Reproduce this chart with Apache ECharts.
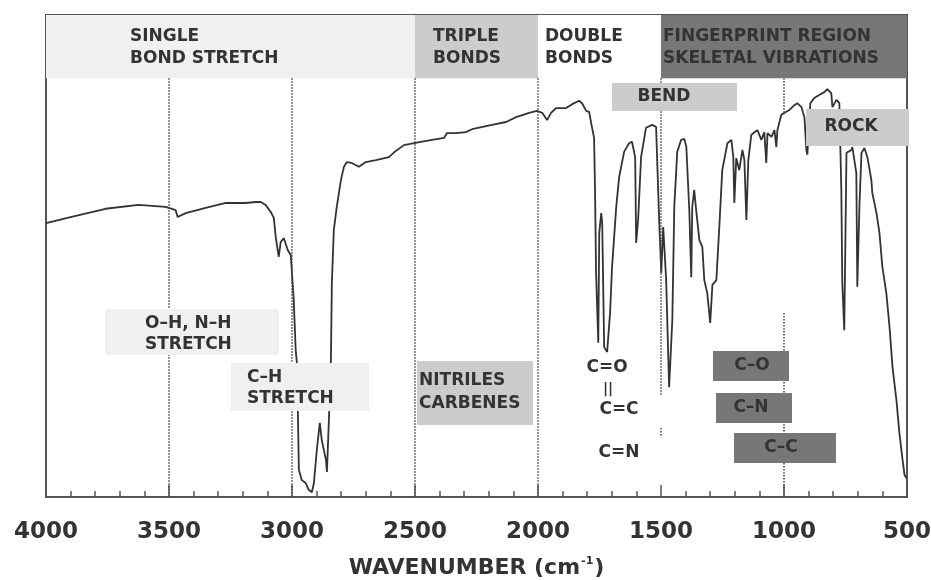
<!DOCTYPE html>
<html>
<head>
<meta charset="utf-8">
<script src="https://cdn.jsdelivr.net/npm/echarts@6/dist/echarts.min.js"></script>
<style>
html,body{margin:0;padding:0;background:#fff;}
#chart{width:931px;height:580px;}
</style>
</head>
<body>
<div id="chart"></div>
<script>
// ---- data ----
const wavenumber = [4000,3896,3758,3624,3514,3473,3465,3432,3351,3269,3188,3147,3127,3107,3086,3074,3066,3054,3046,3033,3025,3017,3005,3001,2993,2985,2980,2976,2972,2960,2944,2932,2919,2911,2899,2887,2879,2862,2858,2850,2842,2838,2830,2818,2801,2789,2777,2757,2728,
2700,2659,2606,2578,2545,2504,2431,2382,2370,2362,2350,2333,2293,2268,2187,2130,2089,2036,2004,1983,1963,1947,1926,1886,1861,1833,1821,1804,1792,1784,1772,
1768,1764,1755,1751,1743,1739,1731,1719,1707,1699,1682,1670,1650,1630,1618,1605,1601,1593,1581,1561,1536,1520,1507,1499,1491,1479,1467,1454,1446,1434,1418,1405,1397,1385,1377,1373,1365,1357,1344,1332,1324,1312,1300,1291,1275,1263,1251,1230,1214,1206,1202,1194,1182,1169,1161,1153,1145,1133,1120,1108,1092,1080,1072,1067,1051,1039,1031,1027,1011,998,978,958,946,929,917,909,905,893,877,857,836,824,808,803,787,775,767,763,755,746,726,722,706,702,693,685,673,661,645,641,624,612,600,584,571,559,543,531,518,510,502];
const transmittance = [56.8,58.1,59.8,60.6,60.2,59.5,58.1,58.9,60.0,61.0,61.0,61.2,61.2,60.6,59.1,57.9,53.9,49.8,52.9,53.7,53.3,51.2,50.2,47.1,40.9,30.5,27.8,17.4,5.6,3.5,2.9,1.5,1.0,2.9,9.8,15.4,11.8,7.7,5.2,16.0,27.8,44.4,55.4,60.2,65.8,68.5,69.5,69.3,68.5,
69.5,69.9,70.5,71.8,73.0,73.4,74.1,74.5,75.5,75.7,75.5,75.5,75.7,76.3,77.2,77.8,78.8,79.7,80.1,79.7,78.2,79.7,80.7,80.7,81.5,82.2,81.7,80.1,79.9,77.6,74.5,
63.1,46.7,32.0,54.8,58.9,56.8,31.1,30.1,38.2,47.7,60.2,66.4,71.6,73.4,73.7,70.5,52.7,57.5,70.5,76.6,77.2,76.8,56.8,46.5,56.0,45.0,22.8,36.7,60.2,71.6,74.1,74.3,72.6,59.5,45.6,60.2,63.7,59.5,53.3,51.9,45.0,42.3,36.1,44.0,45.0,56.0,67.8,73.4,74.1,70.5,61.0,70.3,67.8,72.0,69.9,57.5,69.9,75.1,75.7,76.1,74.1,75.7,69.3,75.5,74.7,76.1,72.6,76.1,79.3,79.7,80.3,81.3,81.7,80.9,78.8,72.0,71.0,81.7,82.8,83.4,84.0,84.6,83.8,80.9,82.4,81.7,63.7,44.4,34.6,71.4,72.0,72.6,67.2,43.6,61.0,71.4,72.4,70.5,65.8,63.1,58.9,54.8,47.7,42.3,35.3,27.0,20.1,13.3,7.7,4.6,3.9];

// header bands
const bandFrom   = [4000, 2500, 2000, 1500];
const bandTo     = [2500, 2000, 1500, 500];
const bandLabels = ['SINGLE\nBOND STRETCH', 'TRIPLE\nBONDS', 'DOUBLE\nBONDS', 'FINGERPRINT REGION\nSKELETAL VIBRATIONS'];
const bandColors = ['#f0f0f0', '#cccccc', '#ffffff', '#777777'];
const headerBottom = 86.9;   // %T level where the header strip starts

// dotted guide lines (wavenumber, from %T, to %T)
const guideX    = [3500, 3000, 2500, 2000, 1500, 1500, 1000, 1000];
const guideFrom = [86.9, 86.9, 86.9, 86.9, 86.9, 14.3, 86.9, 38.2];
const guideTo   = [0,    0,    0,    0,    21.2, 12.7, 79.3, 0];

const axisTitle = 'WAVENUMBER (cm';
const FONT = '"DejaVu Sans", "Liberation Sans", sans-serif';

const chart = echarts.init(document.getElementById('chart'));

const spectrum = wavenumber.map((w, i) => [w, transmittance[i]]);

const bandAreas = bandFrom.map((f, i) => [
  {xAxis: f, yAxis: headerBottom, itemStyle: {color: bandColors[i]}},
  {xAxis: bandTo[i], yAxis: 100}
]);
const guides = guideX.map((g, i) => [{coord: [g, guideFrom[i]]}, {coord: [g, guideTo[i]]}]);

function box(x, y, w, h, fill) {
  return {type: 'rect', z: 50, silent: true, shape: {x: x, y: y, width: w, height: h}, style: {fill: fill}};
}
function label(text, x, y, align, lh, size) {
  return {type: 'text', z: 60, silent: true,
    style: {text: text, x: x, y: y, fill: '#333', align: align || 'left', verticalAlign: 'middle',
      font: 'bold ' + (size || 17) + 'px ' + FONT, lineHeight: lh || 22}};
}

const graphics = [
  label(bandLabels[0], 130, 48, 'left', 22),
  label(bandLabels[1], 433, 48, 'left', 22),
  label(bandLabels[2], 545, 48, 'left', 22),
  label(bandLabels[3], 663, 48, 'left', 22),
  box(612, 83, 125, 28, '#cccccc'), label('BEND', 664, 97, 'center'),
  box(806, 109, 103, 37, '#cccccc'), label('ROCK', 851, 127, 'center'),
  box(105, 309, 174, 46, '#f0f0f0'), label('O\u2013H, N\u2013H\nSTRETCH', 145, 334, 'left', 21),
  box(231, 363, 138, 48, '#f0f0f0'), label('C\u2013H\nSTRETCH', 247, 388, 'left', 21),
  box(417, 361, 116, 64, '#cccccc'), label('NITRILES\nCARBENES', 419, 392, 'left', 23),
  label('C=O', 607, 368, 'center'),
  label('||', 608, 389, 'center', 16, 14),
  label('C=C', 619, 410, 'center'),
  label('C=N', 619, 453, 'center'),
  box(713, 351, 76, 30, '#777777'), label('C\u2013O', 752, 366, 'center'),
  box(716, 393, 76, 30, '#777777'), label('C\u2013N', 751, 408, 'center'),
  box(734, 433, 102, 30, '#777777'), label('C\u2013C', 781, 448, 'center')
];

chart.setOption({
  animation: false,
  backgroundColor: '#ffffff',
  grid: {left: 46, right: 24, top: 15, bottom: 83, show: true, borderColor: '#555', borderWidth: 2,
    backgroundColor: 'transparent', outerBoundsMode: 'none', containLabel: false},
  xAxis: {
    type: 'value', min: 500, max: 4000, interval: 500, inverse: true,
    axisLine: {show: true, lineStyle: {color: '#555', width: 2}},
    axisTick: {show: true, inside: true, length: 12, lineStyle: {color: '#555', width: 1.5}},
    minorTick: {show: true, splitNumber: 5, length: 6, lineStyle: {color: '#555', width: 1.5}},
    splitLine: {show: false},
    axisLabel: {margin: 24, color: '#333', fontFamily: FONT, fontWeight: 'bold', fontSize: 23,
      formatter: function (v) { return String(v); }},
    name: '{a|' + axisTitle + '}{s|-1}{a|)}',
    nameLocation: 'middle', nameGap: 59,
    nameTextStyle: {
      rich: {
        a: {fontFamily: FONT, fontWeight: 'bold', fontSize: 22, color: '#333', lineHeight: 24},
        s: {fontFamily: FONT, fontWeight: 'bold', fontSize: 11, color: '#333', lineHeight: 24, verticalAlign: 'top', padding: [0, 1, 0, 1]}
      }
    }
  },
  yAxis: {type: 'value', min: 0, max: 100, show: false},
  series: [{
    type: 'line', data: spectrum, showSymbol: false, symbol: 'none',
    lineStyle: {color: '#333', width: 1.8}, z: 3,
    markArea: {silent: true, data: bandAreas},
    markLine: {silent: true, symbol: ['none', 'none'], label: {show: false},
      lineStyle: {type: 'dotted', color: '#444', width: 1.5}, data: guides}
  }],
  graphic: graphics
});
</script>
</body>
</html>
